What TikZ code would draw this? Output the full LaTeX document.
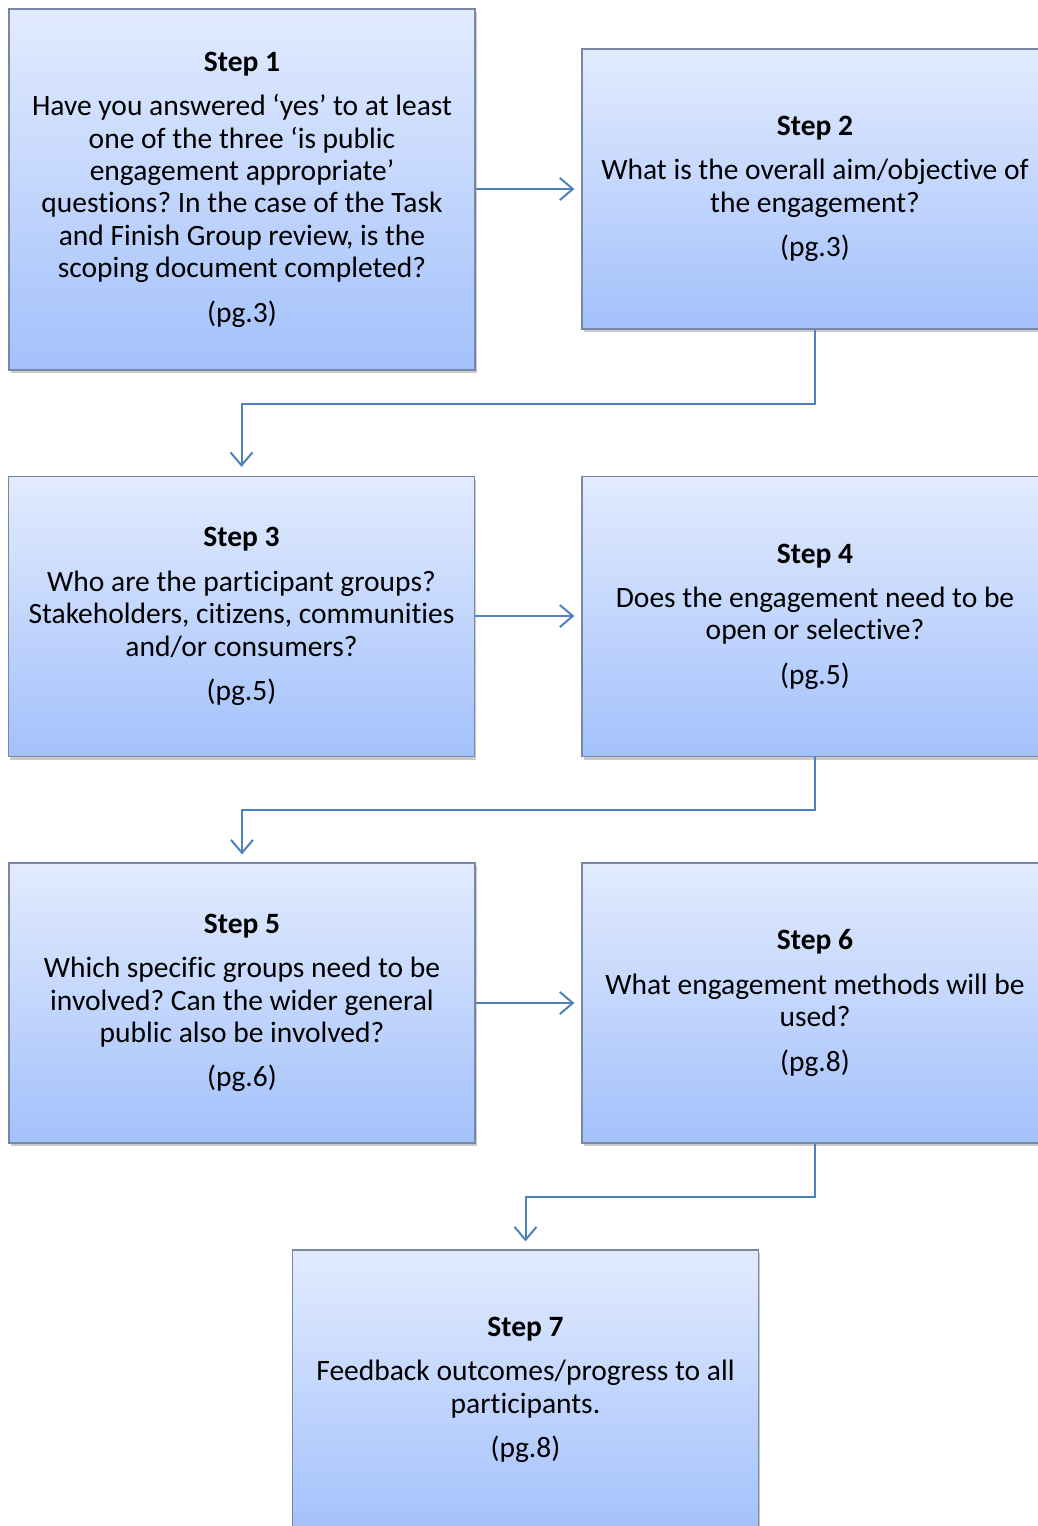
\documentclass[tikz,border=0pt]{standalone}
\usepackage{fontspec}
\setmainfont[Ligatures=NoCommon]{Carlito}
\usetikzlibrary{arrows.meta,shadows,calc}
\definecolor{topc}{RGB}{226,235,254}
\definecolor{botc}{RGB}{163,193,251}
\definecolor{edgec}{RGB}{120,135,165}
\definecolor{arrc}{RGB}{79,129,189}
\tikzset{
  stepbox/.style={draw=edgec, line width=1.2pt, top color=topc, bottom color=botc,
    minimum width=466pt, minimum height=280pt, align=center, inner sep=0pt,
    font=\fontsize{29.5}{32.4}\selectfont\frenchspacing,
    drop shadow={shadow xshift=1.5pt, shadow yshift=-3pt, opacity=0.35, fill=black!60}},
  arr/.style={draw=arrc, line width=2pt, -{Straight Barb[length=13pt,width=22pt]}}
}
\begin{document}
\begin{tikzpicture}[x=1pt,y=-1pt]
\useasboundingbox (0,0) rectangle (1038,1526);
\clip (0,0) rectangle (1038,1526);
\node[stepbox, minimum height=361pt] (b1) at (242,189.5)
  {\textbf{Step 1}\\[12pt]Have you answered ‘yes’ to at least\\one of the three ‘is public\\engagement appropriate’\\questions? In the case of the Task\\and Finish Group review, is the\\scoping document completed?\\[12pt](pg.3)};
\node[stepbox] (b2) at (815,189)
  {\textbf{Step 2}\\[12pt]What is the overall aim/objective of\\the engagement?\\[12pt](pg.3)};
\node[stepbox] (b3) at (241.5,616.5)
  {\textbf{Step 3}\\[12pt]Who are the participant groups?\\Stakeholders, citizens, communities\\and/or consumers?\\[12pt](pg.5)};
\node[stepbox] (b4) at (815,616.5)
  {\textbf{Step 4}\\[12pt]Does the engagement need to be\\open or selective?\\[12pt](pg.5)};
\node[stepbox] (b5) at (242,1003)
  {\textbf{Step 5}\\[12pt]Which specific groups need to be\\involved? Can the wider general\\public also be involved?\\[12pt](pg.6)};
\node[stepbox] (b6) at (815,1003)
  {\textbf{Step 6}\\[12pt]What engagement methods will be\\used?\\[12pt](pg.8)};
\node[stepbox] (b7) at (525.5,1390)
  {\textbf{Step 7}\\[12pt]Feedback outcomes/progress to all\\participants.\\[12pt](pg.8)};
\draw[arr, shorten >=7pt] (b1.east |- 0,189) -- (b2.west |- 0,189);
\draw[arr, shorten >=9pt] (b2.south) -- ++(0,74) -| (b3.north);
\draw[arr, shorten >=7pt] (b3.east |- 0,616) -- (b4.west |- 0,616);
\draw[arr, shorten >=8pt] (b4.south) -- ++(0,53) -| (b5.north);
\draw[arr, shorten >=7pt] (b5.east |- 0,1003) -- (b6.west |- 0,1003);
\draw[arr, shorten >=8pt] (b6.south) -- ++(0,53) -| (b7.north);
\end{tikzpicture}
\end{document}
